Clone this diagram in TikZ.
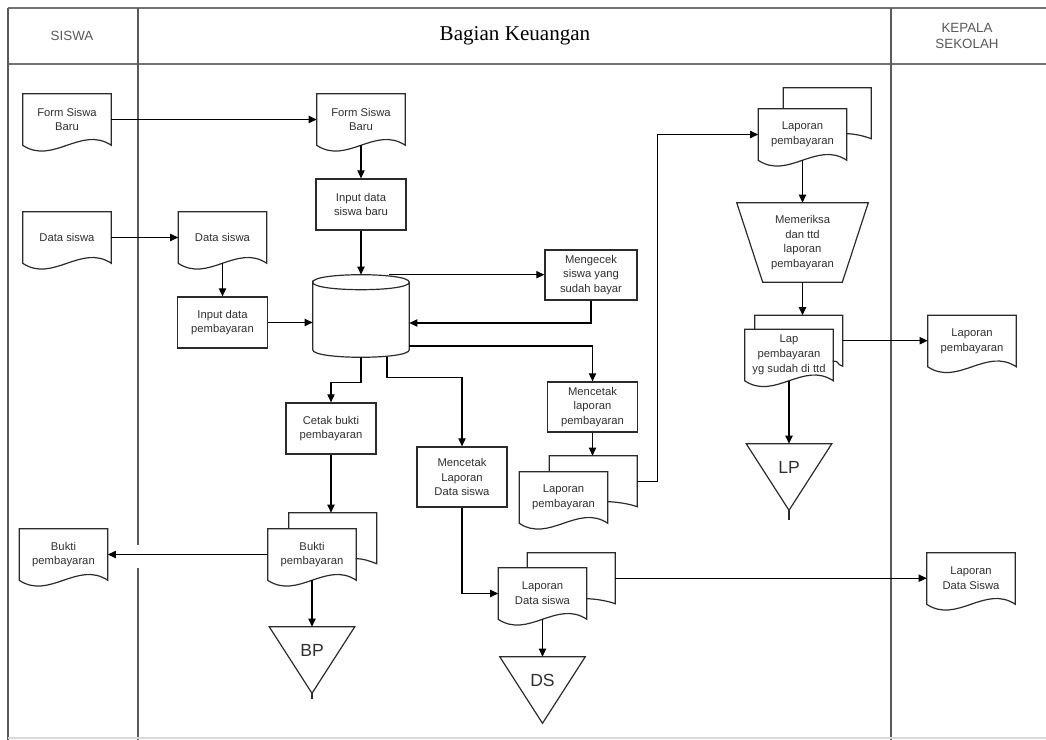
\documentclass[tikz,border=0pt]{standalone}
\usepackage{fontspec}
\setmainfont{Liberation Sans}
\newfontfamily\headserif{Liberation Serif}
\usetikzlibrary{positioning,arrows.meta,calc}
\definecolor{edge}{HTML}{2B2B2B}
\definecolor{lanegray}{HTML}{5A5A5A}
\definecolor{txt}{HTML}{303030}

% outlines drawn round plain nodes
\newcommand{\docline}[1]{%
  \draw[shapeline] (#1.north west) -- (#1.south west)
    .. controls +(30,20) and +(-30,-20) .. (#1.south east) -- (#1.north east) -- cycle;}
\newcommand{\backdoc}[3]{% front node, dx, dy (px)
  \draw[shapeline] ([xshift=#2*0.025cm]#1.north west) -- ++(0,-#3)
    -- coordinate (#1-top) ++(88,0) -- coordinate (#1-back) ++(0,51)
    .. controls +(-8,-3) and +(8,0) .. ++(-#2,-5);}
\newcommand{\trapline}[1]{%
  \draw[shapeline] (#1.south west) -- (#1.south east) -- ($(#1.north east)+(26,0)$)
    -- ($(#1.north west)+(-26,0)$) -- cycle;}
\newcommand{\offline}[2]{%
  \draw[shapeline] (#1.north west) -- (#1.north east) -- ($(#1.south)+(0,20)$) -- cycle;
  \draw[shapeline] ($(#1.south)+(0,20)$) -- ++(0,#2);}
\newcommand{\cylline}[1]{%
  \draw[shapeline] ($(#1.north west)+(0,7.5)$) .. controls +(0,-10) and +(0,-10) .. ($(#1.north east)+(0,7.5)$)
    .. controls +(0,10) and +(0,10) .. ($(#1.north west)+(0,7.5)$) -- ($(#1.south west)+(0,-7.5)$)
    .. controls +(0,10) and +(0,10) .. ($(#1.south east)+(0,-7.5)$) -- ($(#1.north east)+(0,7.5)$);}

\tikzset{
  every node/.style={font=\fontsize{8}{10.5}\selectfont, text=txt},
  shapeline/.style={draw=edge, line width=0.85pt},
  lane/.style={draw=lanegray, line width=1.3pt},
  arr/.style={draw=black, line width=0.85pt, -{Triangle[length=2mm,width=1.8mm]}},
  lanehead/.style={font=\fontsize{9.5}{11.5}\selectfont, text=black!65, align=center},
  proc/.style={shapeline, minimum width=2.25cm, minimum height=1.275cm, inner sep=1pt, align=center},
  doc/.style={minimum width=2.2cm, minimum height=1.275cm, inner sep=1pt, align=center,
    append after command={\pgfextra{\docline{\tikzlastnode}}}},
  manual/.style={minimum width=1.975cm, minimum height=1.975cm, inner sep=0pt, align=center,
    append after command={\pgfextra{\trapline{\tikzlastnode}}}},
  store/.style={minimum width=2.4cm, minimum height=2.05cm, inner sep=0pt,
    append after command={\pgfextra{\cylline{\tikzlastnode}}}},
  offpage/.style={minimum width=2.125cm, minimum height=1.15cm, inner sep=0pt,
    font=\fontsize{12.5}{14}\selectfont,
    append after command={\pgfextra{\offline{\tikzlastnode}{#1}}}},
  offpage/.default=0,
}

\begin{document}
\begin{tikzpicture}[x=0.025cm, y=-0.025cm]
  \useasboundingbox (0,0) rectangle (1046,740);

  % swimlanes
  \draw[lane, draw=black!55, line width=1.5pt] (8,8) -- (1046,8);
  \draw[lane, draw=black!55, line width=1.5pt] (8,64) -- (1046,64);
  \draw[lane] (8,8) -- (8,740);
  \draw[lane] (138,8) -- (138,545);
  \draw[lane] (138,568) -- (138,740);
  \draw[lane] (891,8) -- (891,740);
  \draw[draw=black!15, line width=0.8pt] (8,738) -- (1046,738);

  \node[lanehead] (hSiswa) at (72,36) {SISWA};
  \node[font=\headserif\fontsize{15}{17}\selectfont, text=black] (hKeu) at (515,36) {Bagian Keuangan};
  \node[lanehead] (hKepala) at (967,36) {KEPALA\\SEKOLAH};

  % Siswa
  \node[doc] (formS) at (67,119.5) {Form Siswa\\Baru};
  \node[doc] (dataS) at (67,237.5) {Data siswa};
  \node[doc] (buktiS) at (63.5,554.5) {Bukti\\pembayaran};

  % Bagian Keuangan
  \node[doc] (formK) at (361,119.5) {Form Siswa\\Baru};
  \node[proc] (inputSiswa) at (361,204.5) {Input data\\siswa baru};
  \node[doc] (dataK) at (222.5,237.5) {Data siswa};
  \node[proc] (inputBayar) at (222.5,322.5) {Input data\\pembayaran};
  \node[store] (db) at (361,316) {};
  \node[proc, minimum width=2.3cm, minimum height=1.25cm] (cek) at (591,275) {Mengecek\\siswa yang\\sudah bayar};
  \node[proc, minimum height=1.25cm] (cetakLap) at (592.5,407) {Mencetak\\laporan\\pembayaran};
  \node[proc] (cetakBukti) at (331,428.5) {Cetak bukti\\pembayaran};
  \node[proc, minimum height=1.5cm] (cetakData) at (462,477) {Mencetak\\Laporan\\Data siswa};

  \node[doc] (bukti) at (312,554.5) {Bukti\\pembayaran};
  \backdoc{bukti}{21}{16}
  \node[offpage=6] (bp) at (312,650) {BP};

  \node[doc] (lapData) at (542.5,593.5) {Laporan\\Data siswa};
  \backdoc{lapData}{29}{15}
  \node[offpage] (ds) at (542.5,680) {DS};

  \node[doc] (lapBayar) at (563.5,497.5) {Laporan\\pembayaran};
  \backdoc{lapBayar}{30}{16}

  \node[doc] (lapBayarA) at (802.5,134.5) {Laporan\\pembayaran};
  \backdoc{lapBayarA}{25}{21}
  \node[manual] (periksa) at (802.5,242.5) {Memeriksa\\dan ttd\\laporan\\pembayaran};
  \node[doc] (lapTtd) at (789,355) {Lap\\pembayaran\\yg sudah di ttd};
  \backdoc{lapTtd}{10}{14}
  \node[offpage=10] (lp) at (789,467) {LP};

  % Kepala Sekolah
  \node[doc] (lapBayarKS) at (972,341) {Laporan\\pembayaran};
  \node[doc] (lapDataKS) at (971,578.5) {Laporan\\Data Siswa};

  % connectors
  \draw[arr] (formS.east) -- (formS.east -| formK.west);
  \draw[arr] (dataS.east) -- (dataS.east -| dataK.west);
  \draw[arr] (formK.south) -- (inputSiswa.north);
  \draw[arr] (inputSiswa.south) -- (db.north);
  \draw[arr] (dataK.south) -- (inputBayar.north);
  \draw[arr] (inputBayar.east) -- (inputBayar.east -| db.west);
  \draw[arr] ([xshift=0.7cm]db.north) -- (cek.west |- db.north);
  \draw[arr] (cek.south) |- ([yshift=-0.175cm]db.east);
  \draw[arr] ([yshift=-0.75cm]db.east) -| (cetakLap.north);
  \draw[arr] (db.south) -- ++(0,25) -| (cetakBukti.north);
  \draw[arr] ([xshift=0.65cm]db.south) -- ++(0,20) -| (cetakData.north);
  \draw[arr] (cetakBukti.south) -- (cetakBukti.south |- bukti-top);
  \draw[arr] (bukti.west) -- (bukti.west -| buktiS.east);
  \draw[arr] (bukti.south) -- (bp.north);
  \draw[arr] (cetakData.south) |- (lapData.west);
  \draw[arr] (lapData.south) -- (ds.north);
  \draw[arr] (lapData-back) -- (lapData-back -| lapDataKS.west);
  \draw[arr] (cetakLap.south) -- (cetakLap.south |- lapBayar-top);
  \draw[arr] (lapBayar-back) -- ++(20,0) |- (lapBayarA.west);
  \draw[arr] (lapBayarA.south) -- (periksa.north);
  \draw[arr] (periksa.south) -- (periksa.south |- lapTtd-top);
  \draw[arr] (lapTtd-back) -- (lapTtd-back -| lapBayarKS.west);
  \draw[arr] (lapTtd.south) -- (lp.north);
\end{tikzpicture}
\end{document}
